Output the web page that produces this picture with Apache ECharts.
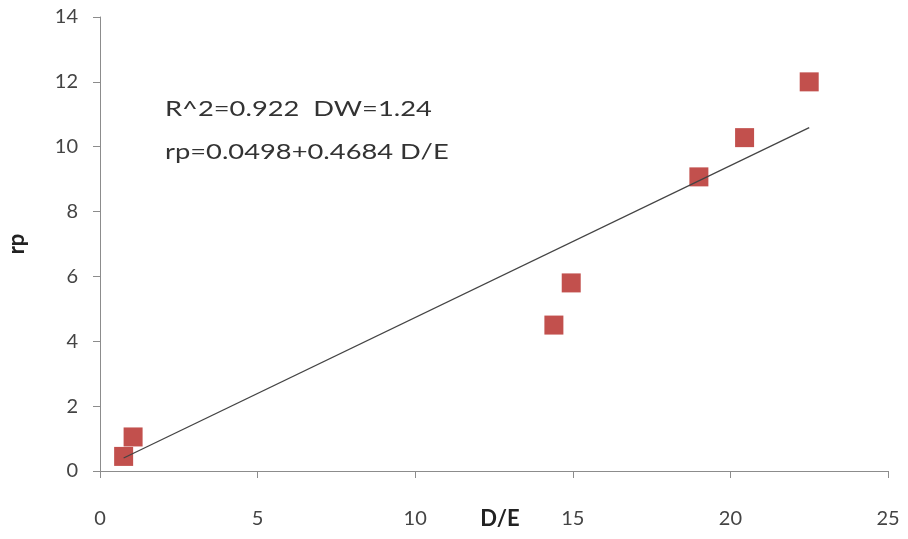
<!DOCTYPE html>
<html>
<head>
<meta charset="utf-8">
<script src="https://cdn.jsdelivr.net/npm/echarts@6/dist/echarts.min.js"></script>
<style>
  html, body { margin: 0; padding: 0; background: #fff; }
  #chart { width: 908px; height: 539px; }
</style>
</head>
<body>
<div id="chart"></div>
<script>
// Debt/equity ratio vs risk premium observations
const deValues = [0.75, 1.05, 14.4, 14.95, 19.0, 20.45, 22.5];
const rpValues = [0.45, 1.05, 4.5, 5.8, 9.07, 10.28, 12.0];

// Fitted regression: rp = a + b * D/E
const fitIntercept = 0.0498;
const fitSlope = 0.4684;
const statsLines = ['R^2=0.922  DW=1.24', 'rp=0.0498+0.4684 D/E'];

const xTicks = { min: 0, max: 25, interval: 5 };
const yTicks = { min: 0, max: 14, interval: 2 };

const points = deValues.map((d, i) => [d, rpValues[i]]);
const xLo = Math.min(...deValues);
const xHi = Math.max(...deValues);
const fitLine = [
  [xLo, fitIntercept + fitSlope * xLo],
  [xHi, fitIntercept + fitSlope * xHi]
];

const font = 'Lato, "Open Sans", sans-serif';
const axisColor = '#8c8c8c';

const chart = echarts.init(document.getElementById('chart'), null, { renderer: 'canvas' });
chart.setOption({
  animation: false,
  backgroundColor: '#fff',
  grid: { left: 100, right: 20, top: 17, bottom: 68, outerBoundsMode: 'none', containLabel: false },
  xAxis: {
    type: 'value',
    min: xTicks.min, max: xTicks.max, interval: xTicks.interval,
    name: 'D/E',
    nameLocation: 'middle',
    nameGap: 37,
    nameMoveOverlap: false,
    nameTextStyle: { fontFamily: font, fontSize: 22, fontWeight: 'bold', color: '#222', padding: [0, 0, 0, 12] },
    axisLine: { lineStyle: { color: axisColor, width: 1 } },
    axisTick: { show: true, length: 7, lineStyle: { color: axisColor } },
    axisLabel: { margin: 38, fontFamily: font, fontSize: 20, color: '#444' },
    splitLine: { show: false }
  },
  yAxis: {
    type: 'value',
    min: yTicks.min, max: yTicks.max, interval: yTicks.interval,
    name: 'rp',
    nameLocation: 'middle',
    nameGap: 72,
    nameRotate: 90,
    nameMoveOverlap: false,
    nameTextStyle: { fontFamily: font, fontSize: 22, fontWeight: 'bold', color: '#222' },
    axisLine: { show: true, lineStyle: { color: axisColor, width: 1 } },
    axisTick: { show: true, length: 7, lineStyle: { color: axisColor } },
    axisLabel: { margin: 22, fontFamily: font, fontSize: 20, color: '#444' },
    splitLine: { show: false }
  },
  graphic: [{
    type: 'text',
    x: 165,
    y: 88,
    scaleX: 1.3,
    style: {
      text: statsLines.join('\n'),
      fontFamily: font,
      fontSize: 21,
      lineHeight: 43,
      fill: '#333'
    }
  }],
  series: [
    {
      type: 'scatter',
      data: points,
      symbol: 'rect',
      symbolSize: 19,
      itemStyle: { color: '#c2504d', opacity: 1 },
      z: 2
    },
    {
      type: 'line',
      data: fitLine,
      symbol: 'none',
      lineStyle: { color: '#444', width: 1.3 },
      z: 3
    }
  ]
});
</script>
</body>
</html>
